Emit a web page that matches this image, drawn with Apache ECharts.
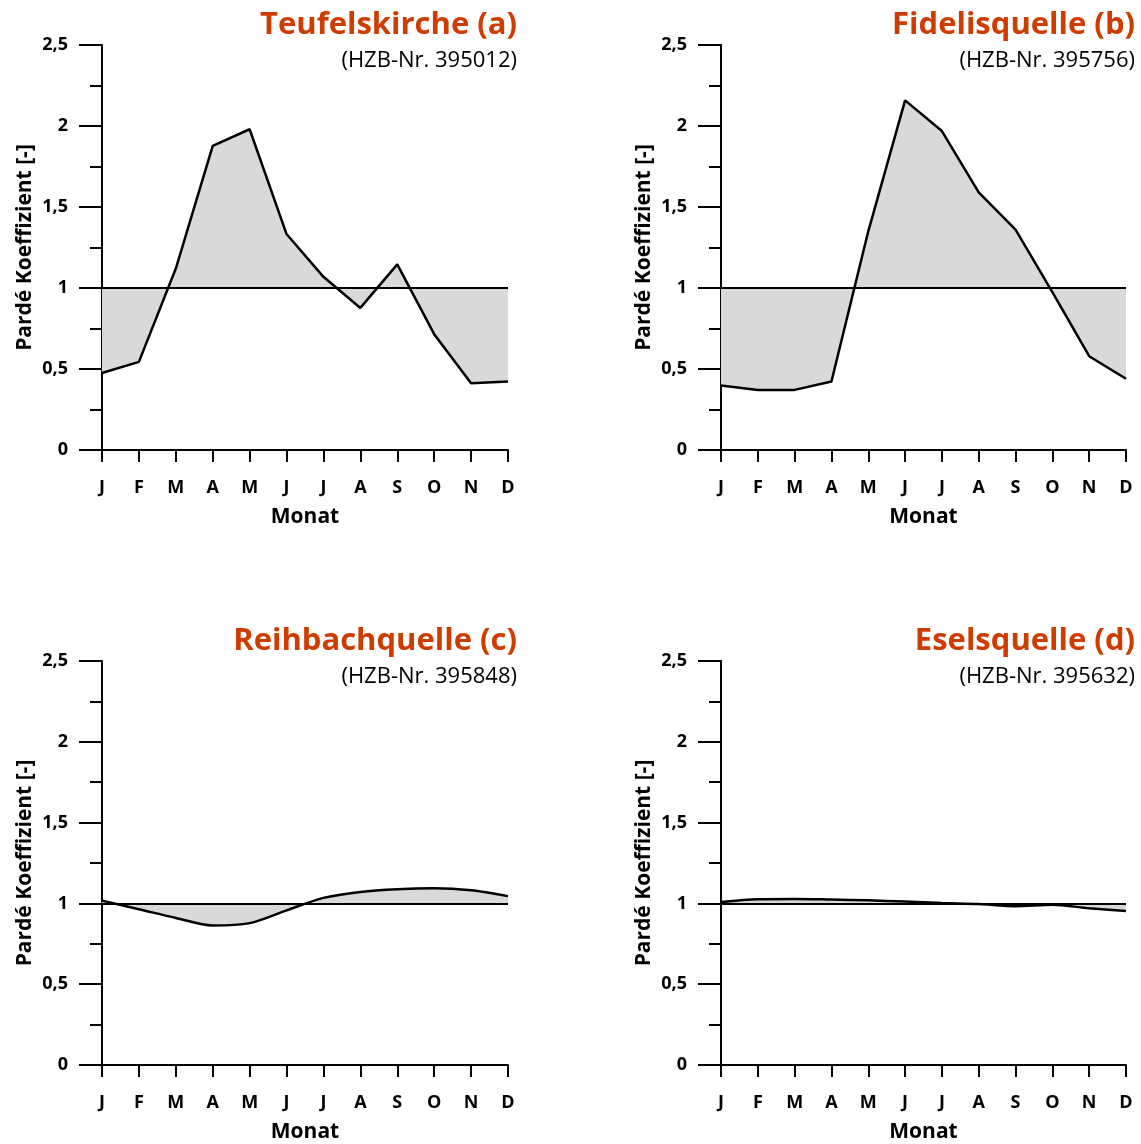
<!DOCTYPE html>
<html><head><meta charset="utf-8">
<script src="https://cdn.jsdelivr.net/npm/echarts@6/dist/echarts.min.js"></script>
<style>html,body{margin:0;padding:0;background:#fff}#c{width:1141px;height:1144px}</style>
</head><body><div id="c"></div>
<script>
const months = ['J','F','M','A','M','J','J','A','S','O','N','D'];
const yTicks = [0, 0.5, 1, 1.5, 2, 2.5];
const titles = ['Teufelskirche (a)','Fidelisquelle (b)','Reihbachquelle (c)','Eselsquelle (d)'];
const subtitles = ['(HZB-Nr. 395012)','(HZB-Nr. 395756)','(HZB-Nr. 395848)','(HZB-Nr. 395632)'];
const teufelskirche = [0.475,0.544,1.12,1.877,1.98,1.333,1.069,0.877,1.146,0.715,0.412,0.423];
const fidelisquelle = [0.398,0.371,0.371,0.423,1.35,2.158,1.969,1.59,1.36,0.975,0.579,0.44];
const reihbachquelle = [1.017,0.964,0.91,0.863,0.878,0.957,1.034,1.071,1.088,1.094,1.081,1.045];
const eselsquelle = [1.009,1.026,1.028,1.024,1.019,1.011,1.002,0.996,0.983,0.991,0.97,0.953];
const seriesData = [teufelskirche, fidelisquelle, reihbachquelle, eselsquelle];
const smoothFlags = [false,false,0.3,0.3];

const FONT = 'Open Sans';
const grids = [
  {left:102, top:45, width:406, height:405},
  {left:721, top:45, width:405, height:405},
  {left:102, top:661, width:406, height:405},
  {left:721, top:661, width:405, height:405}
];
const titleRight = [624, 6, 624, 6];
const titleTop = [10, 10, 626, 626];

const option = {
  animation:false,
  backgroundColor:'#fff',
  title: [],
  grid: grids,
  xAxis: [], yAxis: [], series: []
};
grids.forEach((g,i)=>{
  option.title.push({
    text: titles[i], right: titleRight[i], top: titleTop[i], padding:0,
    textStyle:{fontFamily:FONT, fontWeight:'bold', fontSize:31, color:'#d03c00'}
  });
  option.title.push({
    text: subtitles[i], right: titleRight[i], top: titleTop[i]+40, padding:0,
    textStyle:{fontFamily:FONT, fontWeight:'normal', fontSize:22, color:'#000'}
  });
  option.xAxis.push({
    type:'category', gridIndex:i, data:months, boundaryGap:false,
    name:'Monat', nameLocation:'middle', nameGap:57,
    nameTextStyle:{fontFamily:FONT, fontWeight:'bold', fontSize:21, color:'#000'},
    axisLine:{lineStyle:{color:'#000', width:2}},
    axisTick:{show:true, length:12, lineStyle:{color:'#000', width:2}},
    axisLabel:{fontFamily:FONT, fontWeight:'bold', fontSize:18, color:'#000', margin:29, interval:0},
    splitLine:{show:false}
  });
  option.yAxis.push({
    type:'value', gridIndex:i, min:yTicks[0], max:yTicks[yTicks.length-1], interval:0.5,
    name:'Pardé Koeffizient [-]', nameLocation:'middle', nameGap:66,
    nameTextStyle:{fontFamily:FONT, fontWeight:'bold', fontSize:21, color:'#000'},
    axisLine:{show:true, lineStyle:{color:'#000', width:2}},
    axisTick:{show:true, length:23, lineStyle:{color:'#000', width:2}},
    minorTick:{show:true, splitNumber:2, length:12, lineStyle:{color:'#000', width:2}},
    axisLabel:{fontFamily:FONT, fontWeight:'bold', fontSize:18, color:'#000', margin:34,
      formatter:v=>String(v).replace('.',',')},
    splitLine:{show:false}
  });
  option.series.push({
    type:'line', xAxisIndex:i, yAxisIndex:i, data:seriesData[i],
    smooth:smoothFlags[i], symbol:'none',
    lineStyle:{color:'#000', width:2.5},
    areaStyle:{color:'#d9d9d9', opacity:1, origin:1},
    markLine:{silent:true, symbol:'none', label:{show:false},
      lineStyle:{color:'#000', width:2, type:'solid'},
      data:[{yAxis:1}]},
    z:2
  });
});
const chart = echarts.init(document.getElementById('c'));
chart.setOption(option);
</script></body></html>
